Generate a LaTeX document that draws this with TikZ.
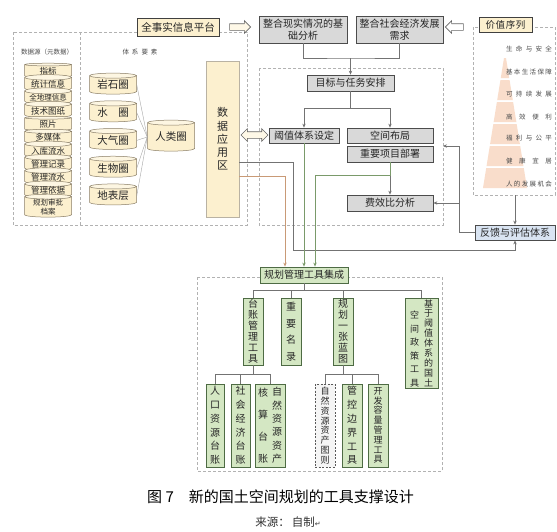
\documentclass[tikz,border=0pt]{standalone}
\usepackage{fontspec}
\setmainfont{Noto Sans CJK SC}
\newfontfamily\symfont{DejaVu Sans}
\usepackage{xcolor}
\usepackage{tikz}
\usetikzlibrary{arrows.meta,shapes.geometric,shapes.arrows,shadows}

\definecolor{cream}{HTML}{FCF0CF}
\definecolor{creamline}{HTML}{8A7E66}
\definecolor{boxgray}{HTML}{D9D9D9}
\definecolor{leafgreen}{HTML}{D4E7C3}
\definecolor{darkgreen}{HTML}{4E6B44}
\definecolor{linkgreen}{HTML}{7A9A6A}
\definecolor{linkorange}{HTML}{C99A76}
\definecolor{paleblue}{HTML}{D9E4F2}
\definecolor{peach}{HTML}{F9DDCB}

\begin{document}
\begin{tikzpicture}[x=1pt, y=-1pt, >={Stealth[length=4pt,width=3.4pt]},
    frame/.style={draw=gray!60, dash pattern=on 3pt off 2pt, line width=0.5pt},
    graybox/.style={draw=black!70, fill=boxgray, line width=0.7pt, inner sep=0pt, align=center,
        text=black!85, font=\fontsize{10}{12}\selectfont,
        drop shadow={shadow xshift=0.8pt, shadow yshift=-0.8pt, opacity=0.35}},
    creambox/.style={draw=black!75, fill=cream, line width=0.8pt, inner sep=0pt, text=black!85},
    greenbox/.style={draw=darkgreen, fill=leafgreen, line width=0.8pt, inner sep=0pt, align=center, text=black!85},
    db/.style={cylinder, shape border rotate=90, aspect=0.16, draw=creamline, line width=0.5pt,
        cylinder uses custom fill, cylinder body fill=cream, cylinder end fill=cream!60,
        inner sep=0pt, minimum width=47pt, align=center, text=black!85},
    hollow/.style={draw=black!60, fill=cream!50, line width=0.6pt, inner xsep=0pt, inner ysep=3pt},
    link/.style={draw=black!55, line width=0.6pt},
    greenlink/.style={draw=linkgreen, line width=1pt},
    orangelink/.style={draw=linkorange, line width=1pt},
    small/.style={font=\fontsize{6.5}{8}\selectfont, text=black!70}
]
    \fill[white] (0,0) rectangle (557,531);
    \useasboundingbox (0,0) rectangle (557,531);

    % Dashed frames
    \draw[frame] (13,32) rectangle (247,225);
    \draw[frame] (80,32) -- (80,225);
    \draw[frame] (259,68) rectangle (443,225);
    \draw[frame] (473,27) rectangle (555,195);
    \draw[frame] (197,277) rectangle (442,471);

    % Top row
    \node[creambox, minimum width=82pt, minimum height=18pt, font=\fontsize{10.5}{12}\selectfont] (allfact) at (178,27) {全事实信息平台};
    \node[graybox, minimum width=88pt, minimum height=27pt] (basic) at (303,29.5) {整合现实情况的基\\础分析};
    \node[graybox, minimum width=87pt, minimum height=27pt] (demand) at (399.5,29.5) {整合社会经济发展\\需求};
    \node[creambox, minimum width=53pt, minimum height=15pt, font=\fontsize{9.5}{11}\selectfont] (valseq) at (505.5,25)
        {\makebox[40pt][s]{价\hfill 值\hfill 序\hfill 列}};
    \node[hollow, single arrow, minimum height=21pt, single arrow head extend=3pt] (factarrow) at (238.5,27) {};
    \node[hollow, single arrow, shape border rotate=180, minimum height=18pt, single arrow head extend=3pt, fill=white] (valarrow) at (456,27) {};

    % Left side: data sources
    \node[small] (srclabel) at (47,52) {数据源（元数据）};
    \foreach \txt [count=\i from 0] in {指标,统计信息,{\fontsize{7.5}{9}\selectfont 全地理信息},技术图纸,照片,多媒体,入库流水,管理记录,管理流水,管理依据}
        \node[db, minimum height=14pt, font=\fontsize{8.5}{10}\selectfont] (src\i) at (48,71+13.3*\i) {\txt};
    \node[db, minimum height=21pt, font=\fontsize{7.5}{8.5}\selectfont] (src10) at (48,207) {规划审批\\档案};

    % Left side: system elements
    \node[small] (syslabel) at (140,52) {\makebox[35pt][s]{体\hfill 系\hfill 要\hfill 素}};
    \foreach \txt/\nm [count=\i from 0] in {岩石圈/rock, 水\quad 圈/water, 大气圈/air, 生物圈/bio, 地表层/surface}
        \node[db, minimum height=21pt, font=\fontsize{10.5}{12}\selectfont] (\nm) at (113,85+27.7*\i) {\txt};
    \node[db, minimum height=31pt, font=\fontsize{10.5}{12}\selectfont] (human) at (171,137) {人类圈};
    \foreach \nm in {rock,water,air,bio,surface}
        \draw[black!35, line width=0.4pt] (\nm.east) -- (human.west);

    \node[creambox, draw=creamline!60, line width=0.6pt, minimum width=33pt, minimum height=156pt, align=center,
        font=\fontsize{11}{13.3}\selectfont] (dataarea) at (222.5,139) {数\\据\\应\\用\\区};
    \node[hollow, double arrow, minimum height=27pt, double arrow head extend=3pt] (dataarrow) at (254.5,135) {};

    % Centre: goals and tasks
    \node[graybox, minimum width=87pt, minimum height=16pt] (goal) at (350.5,83) {目标与任务安排};
    \node[graybox, minimum width=70pt, minimum height=15pt] (threshold) at (304,135.5) {阈值体系设定};
    \node[graybox, minimum width=86pt, minimum height=15pt] (layout) at (390,135.5) {空间布局};
    \node[graybox, minimum width=86pt, minimum height=16pt] (project) at (390,154) {重要项目部署};
    \node[graybox, minimum width=86pt, minimum height=16pt] (cost) at (390,203) {费效比分析};

    \coordinate (merge) at (350.5,58);
    \draw[link] (basic.south) |- (merge) -| (demand.south);
    \draw[link,->] (merge) -- (goal.north);
    \coordinate (split) at (350.5,108);
    \draw[link] (goal.south) -- (split);
    \draw[link,->] (split) -| (threshold.north);
    \draw[link,->] (split) -| (layout.north);

    % Right side: value sequence
    \foreach \k in {0,...,5}{
        \pgfmathsetmacro{\yt}{58+22*\k}
        \pgfmathsetmacro{\yb}{\yt+20}
        \pgfmathsetmacro{\wt}{1+21*(\yt-58)/130}
        \pgfmathsetmacro{\wb}{1+21*(\yb-58)/130}
        \fill[peach] (505-\wt,\yt) -- (505+\wt,\yt) -- (505+\wb,\yb) -- (505-\wb,\yb) -- cycle;
    }
    \node[small] (v1) at (529,49) {\makebox[46pt][s]{生\hfill 命\hfill 与\hfill 安\hfill 全}};
    \node[small] (v2) at (529,72) {\makebox[46pt][s]{基\hfill 本\hfill 生\hfill 活\hfill 保\hfill 障}};
    \node[small] (v3) at (529,94) {\makebox[46pt][s]{可\hfill 持\hfill 续\hfill 发\hfill 展}};
    \node[small] (v4) at (529,117) {\makebox[46pt][s]{高\hfill 效\hfill 便\hfill 利}};
    \node[small] (v5) at (529,138) {\makebox[46pt][s]{福\hfill 利\hfill 与\hfill 公\hfill 平}};
    \node[small] (v6) at (529,161) {\makebox[46pt][s]{健\hfill 康\hfill 宜\hfill 居}};
    \node[small] (v7) at (529,184) {\makebox[46pt][s]{人\hfill 的\hfill 发\hfill 展\hfill 机\hfill 会}};

    \node[draw=black!70, fill=paleblue, line width=0.8pt, minimum width=80pt, minimum height=15pt, inner sep=0pt,
        font=\fontsize{10}{12}\selectfont, text=black!85] (feedback) at (515,232.5) {反馈与评估体系};
    \coordinate (valbottom) at (515,195);
    \draw[link,->] (valbottom) -- (feedback.north);
    \coordinate (midedge) at (443,146);
    \draw[link,->] (feedback.west) -- ++(-15,0) |- (cost.east);
    \draw[link,->] (feedback.west) -- ++(-15,0) |- (midedge);

    % Bottom: tool set
    \node[greenbox, minimum width=88pt, minimum height=16pt, font=\fontsize{10}{12}\selectfont,
        drop shadow={shadow xshift=0.8pt, shadow yshift=-0.8pt, opacity=0.3}] (toolset) at (304,275) {规划管理工具集成};

    \coordinate (dataout1) at (239,162);
    \coordinate (dataout2) at (239,176);
    \draw[link,->] (dataout1) -- ++(54,0) -- ++(0,88) -| (feedback.south);
    \draw[link,->] (project.south) -- (cost.north);
    \draw[orangelink,->] (dataout2) -| ([xshift=-19pt]toolset.north);
    \draw[greenlink,->] (threshold.south) -- (toolset.north);
    \draw[greenlink,->] (project.south) -- ++(0,13) -| ([xshift=11pt]toolset.north);

    \node[greenbox, minimum width=20pt, minimum height=67pt, font=\fontsize{10}{11}\selectfont] (ledger) at (253,331.5) {台\\账\\管\\理\\工\\具};
    \node[greenbox, minimum width=20pt, minimum height=67pt, font=\fontsize{10}{16.5}\selectfont] (roster) at (291,331.5) {重\\要\\名\\录};
    \node[greenbox, minimum width=20pt, minimum height=67pt, font=\fontsize{10}{11}\selectfont] (blueprint) at (343,331.5) {规\\划\\一\\张\\蓝\\图};
    \node[greenbox, minimum width=33pt, minimum height=90pt] (policy) at (421.5,343) {};
    \node[font=\fontsize{9}{9.9}\selectfont, align=center, inner sep=0pt, text=black!85] (policyR) at ([xshift=7pt]policy.center) {基\\于\\阈\\值\\体\\系\\的\\国\\土};
    \node[font=\fontsize{9}{13.6}\selectfont, align=center, inner sep=0pt, text=black!85] (policyL) at ([xshift=-7pt, yshift=-6pt]policy.center) {空\\间\\政\\策\\工\\具};

    \node[greenbox, minimum width=18pt, minimum height=83pt, font=\fontsize{10}{13.8}\selectfont] (pop) at (215,425.5) {人\\口\\资\\源\\台\\账};
    \node[greenbox, minimum width=19pt, minimum height=83pt, font=\fontsize{10}{13.8}\selectfont] (socio) at (240.5,425.5) {社\\会\\经\\济\\台\\账};
    \node[greenbox, minimum width=30pt, minimum height=83pt] (asset) at (270,425.5) {};
    \node[font=\fontsize{10}{13.4}\selectfont, align=center, inner sep=0pt, text=black!85] (assetR) at ([xshift=7pt]asset.center) {自\\然\\资\\源\\资\\产};
    \node[font=\fontsize{10}{22}\selectfont, align=center, inner sep=0pt, text=black!85] (assetL) at ([xshift=-7pt]asset.center) {核\\算\\台\\账};
    \node[draw=black!65, dash pattern=on 2pt off 1.5pt, line width=0.9pt, fill=black!4, minimum width=20pt, minimum height=83pt,
        inner sep=0pt, align=center, text=black!85, font=\fontsize{9}{9.8}\selectfont] (plan) at (325,425.5) {自\\然\\资\\源\\资\\产\\图\\则};
    \node[greenbox, minimum width=20pt, minimum height=83pt, font=\fontsize{10}{13.8}\selectfont] (ctrl) at (352,425.5) {管\\控\\边\\界\\工\\具};
    \node[greenbox, minimum width=20pt, minimum height=83pt, font=\fontsize{9}{9.8}\selectfont] (dev) at (378,425.5) {开\\发\\容\\量\\管\\理\\工\\具};

    \coordinate (tbranch) at (304,290);
    \draw[link] (toolset.south) -- (tbranch);
    \foreach \c in {ledger,roster,blueprint,policy}
        \draw[link] (tbranch) -| (\c.north);
    \coordinate (lbranch) at (253,374);
    \draw[link] (ledger.south) -- (lbranch);
    \foreach \c in {pop,socio,asset}
        \draw[link] (lbranch) -| (\c.north);
    \coordinate (bbranch) at (343,374);
    \draw[link] (blueprint.south) -- (bbranch);
    \foreach \c in {plan,ctrl,dev}
        \draw[link] (bbranch) -| (\c.north);

    % Caption
    \node[font=\fontsize{15}{18}\selectfont, anchor=west, inner sep=0pt] (caption) at (147,497) {图 7\quad 新的国土空间规划的工具支撑设计};
    \node[font=\fontsize{11.5}{13}\selectfont, text=black!80, inner sep=0pt] (source) at (288,522)
        {来源：\,自制{\symfont\fontsize{7}{8}\selectfont ↵}};
\end{tikzpicture}
\end{document}
